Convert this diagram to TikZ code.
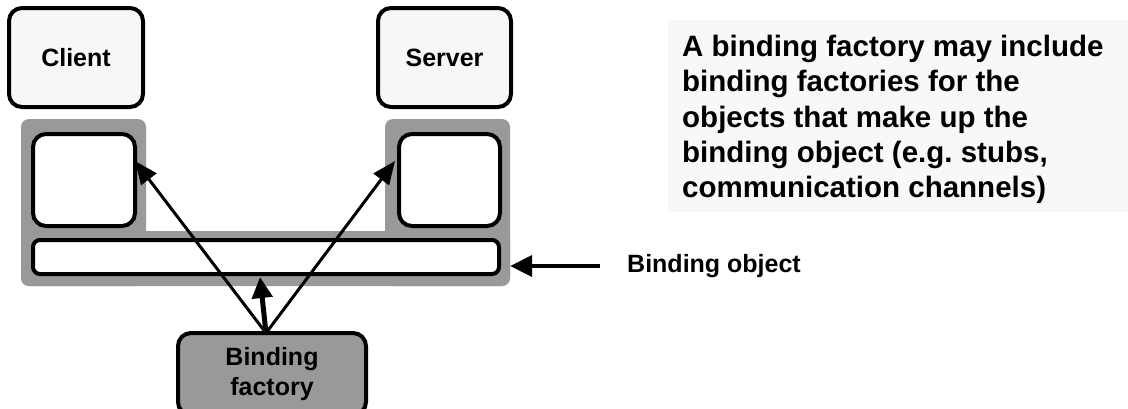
\documentclass[tikz,border=0pt]{standalone}
\usepackage{fontspec}
\setmainfont{Liberation Sans}
\usetikzlibrary{arrows.meta}
\definecolor{boxfill}{HTML}{F7F7F7}
\definecolor{graybg}{HTML}{999999}
\definecolor{notebg}{HTML}{F8F8F8}
\frenchspacing
\begin{document}
\begin{tikzpicture}[x=1pt,y=-1pt,
  topbox/.style={draw=black,line width=4pt,fill=boxfill,rounded corners=13pt,inner sep=0pt,
    font=\fontsize{25}{30}\selectfont\bfseries},
  innerbox/.style={draw=black,line width=4pt,fill=white,rounded corners=13pt,inner sep=0pt},
  grayshape/.style={fill=graybg,rounded corners=8pt,inner sep=0pt},
  arr/.style={line width=3pt,-{Triangle[length=23pt,width=19pt]}},
  thickarr/.style={line width=5pt,-{Triangle[length=21pt,width=20pt]}},
  lbl/.style={font=\fontsize{25}{30}\selectfont\bfseries,inner sep=0pt}
]
\useasboundingbox (0,0) rectangle (1128,408);
% grey binding object outline
\node[grayshape,minimum width=125pt,minimum height=167pt] (gleft) at (83.5,202.5) {};
\node[grayshape,minimum width=125pt,minimum height=167pt] (gright) at (447.5,202.5) {};
\node[grayshape,minimum width=489pt,minimum height=55pt] (gband) at (265.5,258.5) {};
% client / server
\node[topbox,minimum width=134pt,minimum height=99pt] (client) at (76,57.5) {Client};
\node[topbox,minimum width=133pt,minimum height=99pt] (server) at (444.5,57.5) {Server};
% inner boxes
\node[innerbox,minimum width=102pt,minimum height=92pt] (lbox) at (84,180) {};
\node[innerbox,minimum width=101pt,minimum height=92pt] (rbox) at (449.5,180) {};
\node[innerbox,rounded corners=7pt,minimum width=466pt,minimum height=34pt] (bar) at (266,257) {};
% binding factory
\node[draw=black,line width=4pt,fill=graybg,rounded corners=13pt,inner sep=0pt,
  minimum width=188pt,minimum height=82pt,align=center,
  font=\fontsize{25}{30}\selectfont\bfseries] (fac) at (272,374) {Binding\\factory};
% arrows from factory
\draw[arr] ([xshift=-6pt,yshift=-2pt]fac.north) -- ([xshift=-2pt,yshift=19pt]lbox.east);
\draw[arr] ([xshift=-6pt,yshift=-2pt]fac.north) -- ([xshift=-2pt,yshift=19pt]rbox.west);
\draw[thickarr] ([xshift=-6pt,yshift=-2pt]fac.north) -- ([xshift=-6pt]bar.south |- 0,277);
% binding object label
\node[lbl,anchor=west] (bolabel) at (627,266) {Binding object};
\draw[line width=4pt,-{Triangle[length=22pt,width=21pt]}] ([xshift=-27pt]bolabel.west) -- (bolabel.west -| gband.east);
% note
\fill[notebg] (668,20) rectangle (1128,212);
\node[anchor=north west,inner sep=0pt,align=left,
  font=\fontsize{29.5}{35.3}\selectfont\bfseries] (note) at (682,35)
  {A binding factory may include\\binding factories for the\\objects that make up the\\binding object (e.g. stubs,\\communication channels)};
\end{tikzpicture}
\end{document}
